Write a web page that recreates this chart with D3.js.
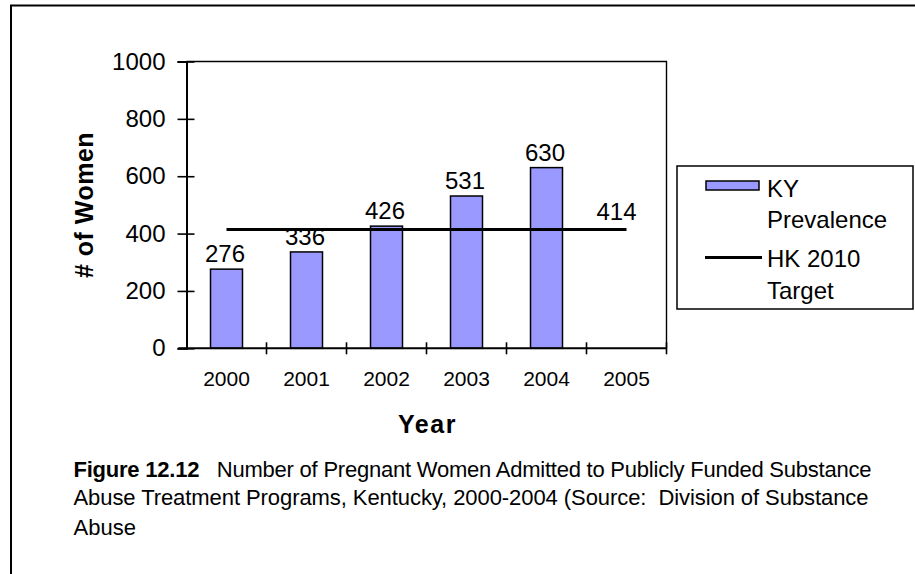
<!DOCTYPE html>
<html>
<head>
<meta charset="utf-8">
<script src="https://cdn.jsdelivr.net/npm/d3@7"></script>
<style>
  html, body { margin: 0; padding: 0; background: #fff; }
  svg { display: block; }
  svg text { font-family: "Liberation Sans", Arial, Helvetica, sans-serif; }
</style>
</head>
<body>
<svg id="chart" width="915" height="574"></svg>
<script>
// ---- data ----
const years = ["2000", "2001", "2002", "2003", "2004", "2005"];
const kyPrevalence = [276, 336, 426, 531, 630, null];
const hkTarget = [414, 414, 414, 414, 414, 414];
const yTicks = [0, 200, 400, 600, 800, 1000];
const legendLabels = [["KY", "Prevalence"], ["HK 2010", "Target"]];
const yTitle = "# of Women";
const xTitle = "Year";
const captionBold = "Figure 12.12";
const captionLines = [
  "Number of Pregnant Women Admitted to Publicly Funded Substance",
  "Abuse Treatment Programs, Kentucky, 2000-2004 (Source:  Division of Substance",
  "Abuse"
];

const FONT = "Liberation Sans, Arial, sans-serif";
const svg = d3.select("#chart").attr("font-family", FONT);

// outer frame
svg.append("rect").attr("x", 11).attr("y", 5.5).attr("width", 1000).attr("height", 1000)
  .attr("fill", "none").attr("stroke", "#000").attr("stroke-width", 2);

const L = 186.5, R = 666.5, T = 61.5, B = 348.3;
const x = d3.scaleBand().domain(years).range([L, R]).padding(0);
const y = d3.scaleLinear().domain([0, 1000]).range([B, T]);

// plot border (top/right)
svg.append("path").attr("d", `M${L},${T}H${R}V${B}`)
  .attr("fill", "none").attr("stroke", "#000").attr("stroke-width", 1.4);

// bars
const barW = x.bandwidth() * 0.4;
svg.append("g").selectAll("rect")
  .data(years.map((yr, i) => ({ yr, v: kyPrevalence[i] })).filter(d => d.v != null))
  .join("rect")
  .attr("x", d => x(d.yr) + (x.bandwidth() - barW) / 2)
  .attr("y", d => y(d.v))
  .attr("width", barW)
  .attr("height", d => B - y(d.v))
  .attr("fill", "#9999FF")
  .attr("stroke", "#000")
  .attr("stroke-width", 1.5);

// target line
const line = d3.line().x(d => x(d.yr) + x.bandwidth() / 2).y(d => y(d.v));
const tData = years.map((yr, i) => ({ yr, v: hkTarget[i] }));
svg.append("path").datum(tData).attr("d", line)
  .attr("fill", "none").attr("stroke", "#000").attr("stroke-width", 3);

// data labels
svg.append("g").selectAll("text")
  .data(years.map((yr, i) => ({ yr, v: kyPrevalence[i] })).filter(d => d.v != null))
  .join("text")
  .attr("x", d => x(d.yr) + x.bandwidth() / 2 - 1.5)
  .attr("y", d => y(d.v) - 7)
  .attr("text-anchor", "middle")
  .attr("font-family", FONT)
  .attr("font-size", 24)
  .text(d => d.v);

const lastT = tData[tData.length - 1];
svg.append("text")
  .attr("x", x(lastT.yr) + x.bandwidth() / 2 - 10)
  .attr("y", y(lastT.v) - 10)
  .attr("text-anchor", "middle")
  .attr("font-family", FONT)
  .attr("font-size", 24)
  .text(lastT.v);

// y axis
const yAxis = svg.append("g").attr("transform", `translate(${L},0)`)
  .call(d3.axisLeft(y).tickValues(yTicks).tickFormat(d3.format("d")).tickSize(9).tickPadding(12));
yAxis.attr("font-family", FONT);
yAxis.select(".domain").attr("stroke-width", 2);
yAxis.selectAll(".tick line").attr("x1", 8).attr("stroke-width", 1.6);
yAxis.selectAll(".tick text").attr("font-size", 24).attr("fill", "#000");

// x axis
const xAxis = svg.append("g").attr("transform", `translate(0,${B})`);
xAxis.append("line").attr("x1", L - 8).attr("x2", R).attr("stroke", "#000").attr("stroke-width", 2);
const bounds = years.map(d => x(d)).concat([R]);
xAxis.selectAll("line.tk").data(bounds.slice(1)).join("line").attr("class", "tk")
  .attr("x1", d => d).attr("x2", d => d).attr("y1", -6).attr("y2", 6)
  .attr("stroke", "#000").attr("stroke-width", 1.6);
xAxis.selectAll("text").data(years).join("text")
  .attr("x", d => x(d) + x.bandwidth() / 2)
  .attr("y", 38)
  .attr("text-anchor", "middle")
  .attr("font-family", FONT)
  .attr("font-size", 21)
  .text(d => d);

// axis titles
svg.append("text")
  .attr("transform", "translate(93,205) rotate(-90)")
  .attr("text-anchor", "middle")
  .attr("font-family", FONT)
  .attr("font-size", 25).attr("font-weight", "bold")
  .attr("letter-spacing", 0.5)
  .text(yTitle);
svg.append("text")
  .attr("x", 427.5).attr("y", 433)
  .attr("text-anchor", "middle")
  .attr("font-family", FONT)
  .attr("font-size", 25).attr("font-weight", "bold")
  .attr("letter-spacing", 1.5)
  .text(xTitle);

// legend
const lg = svg.append("g");
lg.append("rect").attr("x", 677).attr("y", 166).attr("width", 236).attr("height", 143)
  .attr("fill", "#fff").attr("stroke", "#000").attr("stroke-width", 1.5);
lg.append("rect").attr("x", 706).attr("y", 181).attr("width", 53).attr("height", 9)
  .attr("fill", "#9999FF").attr("stroke", "#000").attr("stroke-width", 1.5);
lg.append("line").attr("x1", 705).attr("x2", 762).attr("y1", 257.5).attr("y2", 257.5)
  .attr("stroke", "#000").attr("stroke-width", 3);
const legendBase = [[196.7, 228.3], [266.7, 299]];
legendLabels.forEach((lines, i) => {
  lines.forEach((t, j) => {
    lg.append("text").attr("x", 767).attr("y", legendBase[i][j])
      .attr("font-family", FONT)
      .attr("font-size", 24).text(t);
  });
});

// caption
const cap = svg.append("g").attr("font-size", 22).attr("font-family", FONT);
const c1 = cap.append("text").attr("x", 73.5).attr("y", 476.5)
  .attr("textLength", 798).attr("lengthAdjust", "spacing");
c1.append("tspan").attr("font-weight", "bold").text(captionBold);
c1.append("tspan").text("\u00a0\u00a0 " + captionLines[0]);
cap.append("text").attr("x", 73.5).attr("y", 505)
  .attr("textLength", 795).attr("lengthAdjust", "spacing")
  .text(captionLines[1].replace("  ", "\u00a0 "));
cap.append("text").attr("x", 73.5).attr("y", 535).text(captionLines[2]);
</script>
</body>
</html>
